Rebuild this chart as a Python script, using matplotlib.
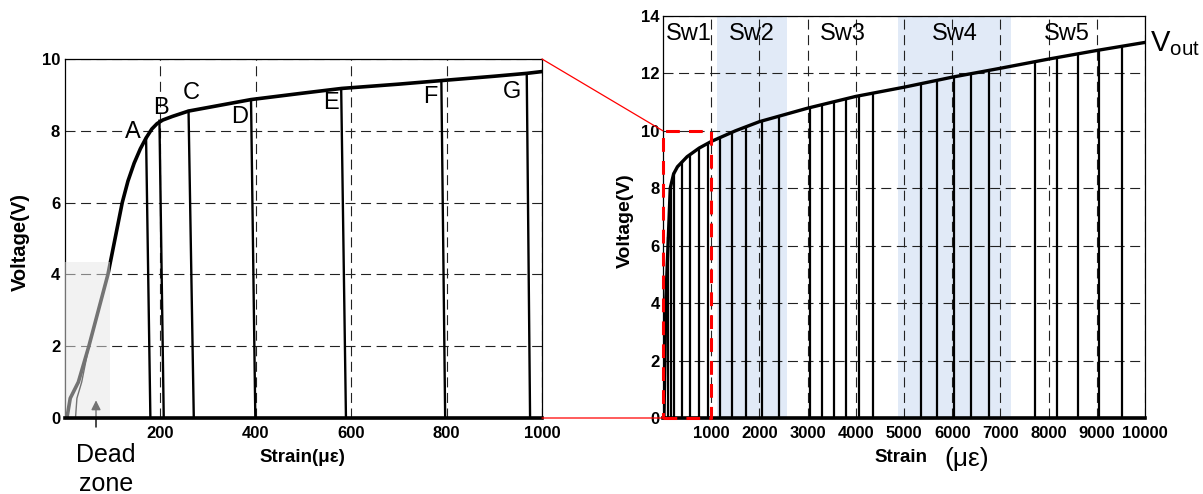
import numpy as np
import matplotlib
matplotlib.use('Agg')
import matplotlib.pyplot as plt
from matplotlib.patches import Rectangle, ConnectionPatch

plt.rcParams['font.family'] = ['Liberation Sans', 'DejaVu Sans']

# ---------------- data: left (zoomed) panel ----------------
left_strain = [4, 11, 28, 50, 70, 90, 105, 120, 132, 145, 158, 170, 182, 193,
               205, 225, 259, 300, 390, 493, 580, 700, 790, 900, 968, 1000]
left_volt = [0, 0.55, 1.0, 2.0, 3.0, 4.0, 5.0, 6.0, 6.6, 7.1, 7.5, 7.8, 8.05,
             8.2, 8.3, 8.4, 8.55, 8.65, 8.87, 9.04, 9.18, 9.3, 9.4, 9.52, 9.6,
             9.65]
dead_strain = [22, 25, 35, 50]
dead_volt = [0, 0.55, 1.0, 2.0]
point_labels = ['A', 'B', 'C', 'D', 'E', 'F', 'G']
point_top_strain = [170, 198, 259, 390, 579, 789, 968]
point_bottom_strain = [179, 207, 270, 399, 589, 797, 975]
point_top_volt = [7.8, 8.28, 8.55, 8.87, 9.18, 9.4, 9.6]
left_xticks = [200, 400, 600, 800, 1000]
left_yticks = [0, 2, 4, 6, 8, 10]

# ---------------- data: right (full) panel ----------------
right_strain = [20, 40, 56, 104, 150, 220, 300, 500, 750, 1000, 1500, 2000,
                3000, 4000, 5000, 6000, 7000, 8000, 9000, 10000]
right_volt = [0, 2, 4, 6, 8, 8.5, 8.75, 9.1, 9.4, 9.63, 10.0, 10.32, 10.79,
              11.2, 11.52, 11.87, 12.18, 12.5, 12.8, 13.08]
drop_strain = [110, 160, 235, 400, 561, 745, 925, 1178, 1441, 1719, 2051, 2397,
               3049, 3299, 3541, 3798, 4075, 4351, 5357, 5690, 6035, 6397, 6763,
               7727, 8164, 8600, 9050, 9528]
drop_volt = [6.3, 8.1, 8.55, 8.95, 9.2, 9.4, 9.57, 9.77, 9.96, 10.15, 10.34,
             10.51, 10.81, 10.91, 11.01, 11.12, 11.22, 11.31, 11.64, 11.76,
             11.88, 11.99, 12.1, 12.41, 12.55, 12.68, 12.81, 12.95]
sw_labels = ['Sw1', 'Sw2', 'Sw3', 'Sw4', 'Sw5']
sw_label_strain = [540, 1850, 3721, 6050, 8378]
sw_shaded = [(1129, 2564), (4871, 7228)]
right_xticks = [1000, 2000, 3000, 4000, 5000, 6000, 7000, 8000, 9000, 10000]
right_yticks = [0, 2, 4, 6, 8, 10, 12, 14]

# ---------------- layout ----------------
W, H = 1203, 494
fig = plt.figure(figsize=(W / 100, H / 100), dpi=100)
fx = lambda x: x / W
fy = lambda y: 1 - y / H

axL = fig.add_axes([fx(65), fy(418), 477 / W, 359 / H])
axR = fig.add_axes([fx(663), fy(418), 482 / W, 402 / H])

grid_kw = dict(color='#222222', lw=0.8, linestyle=(0, (9, 5)))

# ---- left panel ----
axL.set_xlim(0, 1000)
axL.set_ylim(0, 10)
axL.set_xticks(left_xticks)
axL.set_yticks(left_yticks)
axL.grid(True, **grid_kw)
axL.plot(left_strain, left_volt, color='black', lw=2.6, zorder=4,
         solid_capstyle='round', solid_joinstyle='round')
axL.plot(dead_strain, dead_volt, color='black', lw=1.0, zorder=4)
for xt, xb, vt in zip(point_top_strain, point_bottom_strain, point_top_volt):
    axL.plot([xt, xb], [vt, 0], color='black', lw=1.7, zorder=4)
axL.plot([0, 1000], [0, 0], color='black', lw=2.6, zorder=5, clip_on=False)
axL.add_patch(Rectangle((0, 0), 95, 4.35, facecolor='#e6e6e6', alpha=0.5,
                        edgecolor='none', zorder=4.5))
label_off = [(-27, 0.17), (4, 0.35), (5, 0.49), (-23, -0.49),
             (-22, -0.41), (-24, -0.47), (-30, -0.51)]
for lab, xt, vt, (dx, dv) in zip(point_labels, point_top_strain,
                                  point_top_volt, label_off):
    axL.text(xt + dx, vt + dv, lab, fontsize=17, ha='center', va='center',
             zorder=6)
axL.annotate('', xy=(65, 0.57), xytext=(65, -0.33),
             arrowprops=dict(arrowstyle='-|>', color='black', lw=1,
                             mutation_scale=14),
             annotation_clip=False)
fig.text(fx(106), fy(455), 'Dead', fontsize=18, ha='center', va='center')
fig.text(fx(106), fy(484), 'zone', fontsize=18, ha='center', va='center')

# ---- right panel ----
axR.set_xlim(0, 10000)
axR.set_ylim(0, 14)
axR.set_xticks(right_xticks)
axR.set_yticks(right_yticks)
axR.grid(True, **grid_kw)
for a, b in sw_shaded:
    axR.axvspan(a, b, ymin=0, ymax=1, facecolor='#e1eaf7', edgecolor='none',
                zorder=1)
axR.plot(right_strain, right_volt, color='black', lw=2.4, zorder=4,
         solid_joinstyle='round')
axR.vlines(drop_strain, 0, drop_volt, color='black', lw=1.6, zorder=4)
axR.plot([0, 10000], [0, 0], color='black', lw=2.6, zorder=5, clip_on=False)
for lab, xs in zip(sw_labels, sw_label_strain):
    axR.text(xs, 13.37, lab, fontsize=17, ha='center', va='center', zorder=6)
fig.text(fx(1150), fy(44), r'$\mathregular{V_{out}}$', fontsize=21,
         ha='left', va='center')

# zoom rectangle (extent of the left panel)
lx0, lx1 = axL.get_xlim()
ly0, ly1 = axL.get_ylim()
axR.plot([lx0, lx1, lx1, lx0, lx0], [ly0, ly0, ly1, ly1, ly0], color='red',
         lw=2.2, linestyle=(0, (4.5, 3)), zorder=7, clip_on=False)

for ya in (ly1, ly0):
    con = ConnectionPatch(xyA=(lx1, ya), coordsA=axL.transData,
                          xyB=(lx0, ya), coordsB=axR.transData,
                          color='red', lw=0.9)
    fig.add_artist(con)

# ---- common styling ----
for ax, ypad in ((axL, 3.5), (axR, 2.5)):
    ax.tick_params(axis='both', length=0, labelsize=12)
    ax.tick_params(axis='x', pad=6)
    ax.tick_params(axis='y', pad=ypad)
    for lbl in ax.get_xticklabels() + ax.get_yticklabels():
        lbl.set_fontweight('bold')
    for sp in ax.spines.values():
        sp.set_linewidth(0.9)

fig.text(fx(20), fy(242), 'Voltage(V)', fontsize=14.5, fontweight='bold',
         rotation=90, ha='center', va='center')
fig.text(fx(625), fy(221), 'Voltage(V)', fontsize=14, fontweight='bold',
         rotation=90, ha='center', va='center')
fig.text(fx(302), fy(457), 'Strain(με)', fontsize=13.5, fontweight='bold',
         ha='center', va='center')
fig.text(fx(901), fy(457), 'Strain', fontsize=13.5, fontweight='bold',
         ha='center', va='center')
fig.text(fx(967), fy(459), '(με)', fontsize=19, ha='center', va='center')

fig.savefig('out.png', dpi=100)
